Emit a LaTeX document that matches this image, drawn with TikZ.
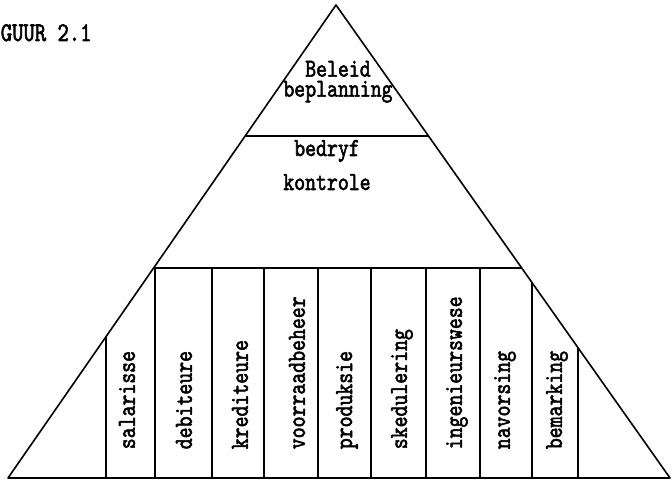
\documentclass[tikz,border=0pt]{standalone}
\usepackage{fontspec}
\newfontfamily\typewriter[Extension=.otf,FakeStretch=0.8,FakeBold=2]{lmmono10-regular}
\begin{document}
\begin{tikzpicture}[x=1pt,y=-1pt,line width=1.6pt,line join=round,
  lbl/.style={font=\typewriter\fontsize{26}{28}\selectfont,inner sep=0pt},
  col/.style={lbl,rotate=90,anchor=west}]
\useasboundingbox (0,0) rectangle (672,481);
% outline of the pyramid
\coordinate (A) at (336,5);
\coordinate (BL) at (8,478);
\coordinate (BR) at (670,478);
\draw (BL) -- (A) -- (BR) -- cycle;
% tier boundaries
\coordinate (t1l) at (intersection of A--BL and 0,136--10,136);
\coordinate (t1r) at (intersection of A--BR and 0,136--10,136);
\coordinate (t2l) at (intersection of A--BL and 0,268--10,268);
\coordinate (t2r) at (intersection of A--BR and 0,268--10,268);
\draw (t1l) -- (t1r);
\draw (t2l) -- (t2r);
% column dividers of the lowest tier
\foreach \x in {155,212,264,318,371,426,480}
  \draw (\x,268) -- (\x,478);
\coordinate (c1) at (intersection of A--BL and 106,0--106,10);
\coordinate (c9) at (intersection of A--BR and 532,0--532,10);
\coordinate (c10) at (intersection of A--BR and 578,0--578,10);
\draw (c1) -- (106,478);
\draw (c9) -- (532,478);
\draw (c10) -- (578,478);
% texts
\node[lbl,anchor=base west,font=\typewriter\fontsize{27}{29}\selectfont] (title) at (0,41) {GUUR 2.1};
\node[lbl,anchor=north,align=center,font=\typewriter\fontsize{26}{20}\selectfont] (beleid) at (338,60) {Beleid\\beplanning};
\node[lbl,anchor=base] (bedryf) at (327,156) {bedryf};
\node[lbl,anchor=base] (kontrole) at (327,190) {kontrole};
\node[col] (salarisse) at (127,450) {salarisse};
\node[col] (debiteure) at (184,450) {debiteure};
\node[col] (krediteure) at (240,450) {krediteure};
\node[col] (voorraadbeheer) at (297,450) {voorraadbeheer};
\node[col] (produksie) at (347,450) {produksie};
\node[col] (skedulering) at (402,450) {skedulering};
\node[col] (ingenieurswese) at (457,450) {ingenieurswese};
\node[col] (navorsing) at (505,450) {navorsing};
\node[col] (bemarking) at (557,450) {bemarking};
\end{tikzpicture}
\end{document}
